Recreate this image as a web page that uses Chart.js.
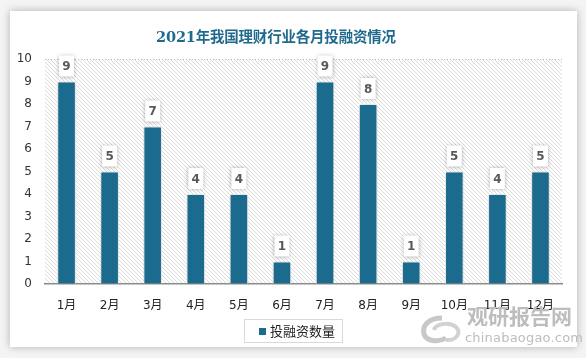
<!DOCTYPE html>
<html>
<head>
<meta charset="utf-8">
<script src="https://cdn.jsdelivr.net/npm/chart.js@4"></script>
<style>
  html, body { margin: 0; padding: 0; }
  body { width: 586px; height: 358px; background: #f4f4f4; position: relative; overflow: hidden; font-family: "Noto Sans CJK SC", sans-serif; }
  #card { position: absolute; left: 10px; top: 11px; width: 567px; height: 336px; background: #fff; box-shadow: 0 0 8px rgba(0,0,0,0.28); }
  #title { position: absolute; left: 0; top: 14px; width: 532px; text-align: center; color: #1f6a8c; font: bold 14.5px "DejaVu Serif", "Noto Sans CJK SC", serif; letter-spacing: -0.2px; }
  #legend { position: absolute; left: 234px; top: 308px; width: 97px; height: 22px; border: 1px solid #d9d9d9; font-size: 13px; line-height: 22px; color: #222; }
  #legend i { display: inline-block; width: 7px; height: 7px; background: #1b6b8f; margin: 0 4px 0 14px; vertical-align: 1px; }
  #mark { position: absolute; left: 410px; top: 300px; width: 165px; height: 46px; color: #bdbdbd; }
  #mark .cn { position: absolute; left: 57px; top: 0px; font: bold 21px "Noto Sans CJK SC", sans-serif; }
  #mark .en { position: absolute; left: 55px; top: 30px; font: 13px "DejaVu Sans", sans-serif; letter-spacing: 0.2px; }
  #mark svg { position: absolute; left: 10px; top: 14px; }
  canvas { position: absolute; left: 0; top: 0; }
</style>
</head>
<body>
<div id="card">
  <canvas id="chart" width="567" height="336"></canvas>
  <div id="title">2021年我国理财行业各月投融资情况</div>
  <div id="legend"><i></i>投融资数量</div>
</div>
<div id="mark">
  <svg width="44" height="30" viewBox="0 0 44 30">
    <path d="M22 4 C8 4 2 12 4 20 C6 27 18 29 26 24" fill="none" stroke="#c8c8c8" stroke-width="5"/>
    <path d="M14 16 C16 9 30 8 36 13 C42 19 36 27 26 26" fill="none" stroke="#d2d2d2" stroke-width="4"/>
  </svg>
  <div class="cn">观研报告网</div>
  <div class="en">chinabaogao.com</div>
</div>
<script>
const months = ['1月', '2月', '3月', '4月', '5月', '6月', '7月', '8月', '9月', '10月', '11月', '12月'];
const dealCounts = [9, 5, 7, 4, 4, 1, 9, 8, 1, 5, 4, 5];
const yTicks = [0, 1, 2, 3, 4, 5, 6, 7, 8, 9, 10];

const barColor = '#1b6b8f';

// diagonal hatch tile for the plot background
function makeHatch() {
  const tile = document.createElement('canvas');
  tile.width = 4;
  tile.height = 4;
  const t = tile.getContext('2d');
  t.fillStyle = '#fff';
  t.fillRect(0, 0, 4, 4);
  t.fillStyle = '#dadada';
  for (let i = 0; i < 4; i++) t.fillRect(i, i, 1, 1);
  return tile;
}

const hatchBg = {
  id: 'hatchBg',
  beforeDraw(chart) {
    const { ctx, chartArea: a } = chart;
    ctx.save();
    ctx.fillStyle = ctx.createPattern(makeHatch(), 'repeat');
    ctx.fillRect(a.left, a.top, a.right - a.left, a.bottom - a.top);
    ctx.restore();
  },
};

const barShadow = {
  id: 'barShadow',
  beforeDatasetsDraw(chart) {
    const { ctx } = chart;
    ctx.save();
    ctx.shadowColor = 'rgba(0,0,0,0.25)';
    ctx.shadowBlur = 4;
  },
  afterDatasetsDraw(chart) {
    chart.ctx.restore();
  },
};

const valueBoxes = {
  id: 'valueBoxes',
  afterDatasetsDraw(chart) {
    const { ctx } = chart;
    const meta = chart.getDatasetMeta(0);
    meta.data.forEach((bar, i) => {
      const w = 15;
      const h = 21;
      const x = bar.x - w / 2;
      const y = bar.y - 5 - h;
      ctx.save();
      ctx.shadowColor = 'rgba(0,0,0,0.3)';
      ctx.shadowBlur = 4;
      ctx.fillStyle = '#fff';
      ctx.fillRect(x, y, w, h);
      ctx.restore();
      ctx.save();
      ctx.fillStyle = '#595959';
      ctx.font = 'bold 12px "DejaVu Sans", sans-serif';
      ctx.textAlign = 'center';
      ctx.textBaseline = 'middle';
      ctx.fillText(String(dealCounts[i]), bar.x, y + h / 2 + 1);
      ctx.restore();
    });
  },
};

new Chart(document.getElementById('chart'), {
  type: 'bar',
  data: {
    labels: months,
    datasets: [{
      label: '投融资数量',
      data: dealCounts,
      backgroundColor: barColor,
      borderColor: '#fff',
      borderWidth: 1,
      barPercentage: 0.43,
      categoryPercentage: 1,
    }],
  },
  options: {
    responsive: false,
    animation: false,
    layout: { padding: { top: 48, right: 15, bottom: 33, left: 0 } },
    scales: {
      x: {
        grid: { display: false },
        border: { color: '#8c8c8c', width: 1.5 },
        ticks: { color: '#222', font: { size: 12, family: '"DejaVu Sans", "Noto Sans CJK SC", sans-serif' }, padding: 7, maxRotation: 0 },
        afterFit(scale) { scale.height = 30; },
      },
      y: {
        min: 0,
        max: 10,
        afterBuildTicks(scale) { scale.ticks = yTicks.map((v) => ({ value: v })); },
        grid: {
          color: (c) => (c.tick && c.tick.value === 10 ? '#bdbdbd' : 'rgba(0,0,0,0)'),
          drawTicks: false,
        },
        border: { display: false, dash: [1, 2] },
        ticks: { color: '#333', font: { size: 12, family: '"DejaVu Sans", sans-serif' }, padding: 13 },
        afterFit(scale) { scale.width = 35; },
      },
    },
    plugins: {
      legend: { display: false },
      title: { display: false },
      tooltip: { enabled: false },
    },
  },
  plugins: [hatchBg, barShadow, valueBoxes],
});
</script>
</body>
</html>
